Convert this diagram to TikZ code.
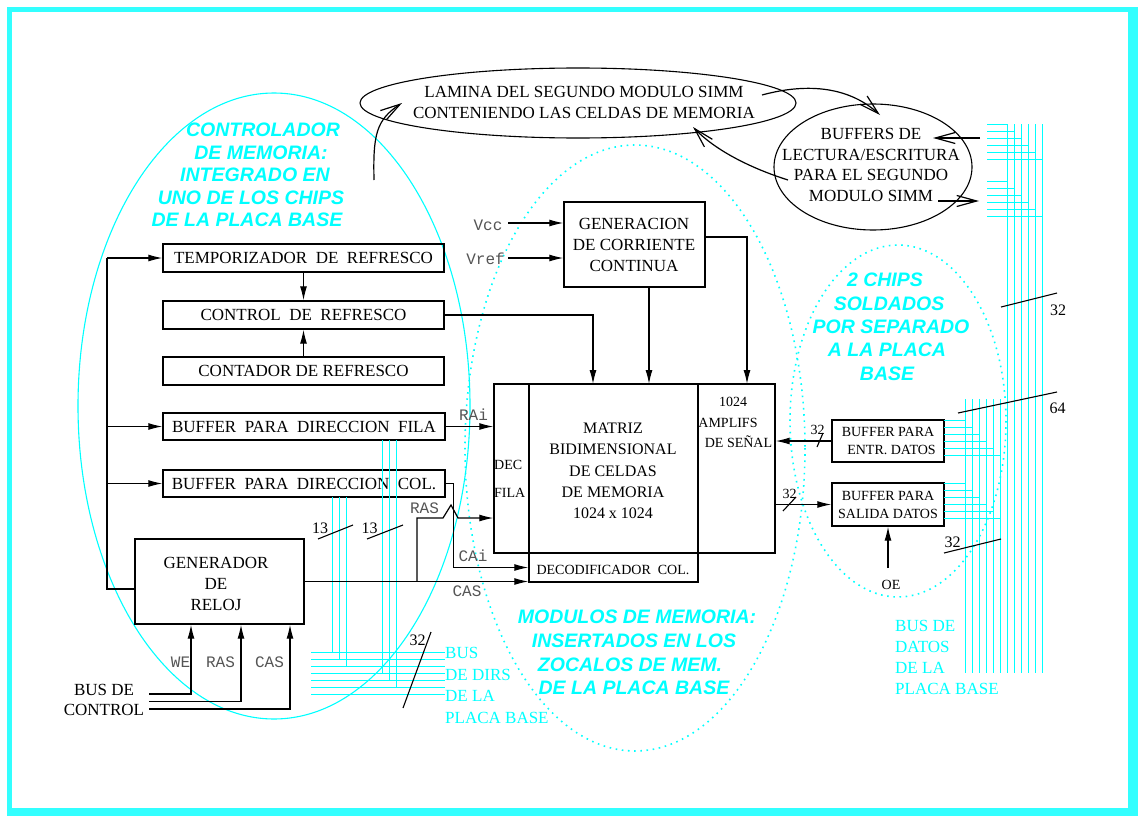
\documentclass[tikz,border=0pt]{standalone}
\usepackage{fontspec}
\setmainfont{Liberation Serif}
\setsansfont{Liberation Sans}
\setmonofont{Liberation Mono}
\usetikzlibrary{arrows.meta,shapes.geometric}
\definecolor{framecyan}{RGB}{51,255,255}
\definecolor{buscyan}{RGB}{0,255,255}
\definecolor{labelgray}{RGB}{85,85,85}
\newcommand{\fsz}[2]{\fontsize{#1}{#2}\selectfont}
\begin{document}
\begin{tikzpicture}[x=1pt,y=-1pt,
  box/.style={draw, line width=1.3pt, inner sep=0pt, align=center, font=\fsz{17}{21}},
  txt/.style={inner sep=0pt, align=center, font=\fsz{17}{21}},
  small/.style={inner sep=0pt, align=center, font=\fsz{14}{17.5}},
  mono/.style={inner sep=0pt, anchor=base, text=labelgray, font=\ttfamily\fsz{16}{18}},
  num/.style={inner sep=0pt, anchor=base, font=\fsz{16}{18}},
  head/.style={inner sep=0pt, text=buscyan, font=\sffamily\bfseries\itshape\fsz{19.5}{23}},
  buslabel/.style={inner sep=0pt, anchor=west, align=left, text=buscyan, font=\fsz{17}{21.5}},
  wire/.style={line width=1.2pt},
  arr/.style={line width=1.2pt, -{Latex[length=14pt,width=7pt]}},
  barb/.style={line width=1.2pt, -{Straight Barb[length=20pt,width=11pt]}},
  bus/.style={buscyan, line width=1pt},
  tick/.style={line width=1.1pt},
  dots/.style={buscyan, line width=1.6pt, dash pattern=on 1.6pt off 4.6pt},
]
% page and frame
\fill[white] (0,0) rectangle (1138,816);
\useasboundingbox (0,0) rectangle (1138,816);
\fill[framecyan] (7,7) rectangle (1138,816);
\fill[white] (12,12) rectangle (1128,808);

% grouping outlines
\draw[buscyan, line width=1.1pt] (274,406) ellipse [x radius=196, y radius=313];
\draw[dots] (635,448) ellipse [x radius=170, y radius=303];
\draw[dots] (898,421) ellipse [x radius=108, y radius=176];

% blocks of the memory controller
\node[box, minimum width=281, minimum height=28] (temp) at (303.5,258) {TEMPORIZADOR\ \ DE\ \ REFRESCO};
\node[box, minimum width=281, minimum height=28] (ctrl) at (303.5,315) {CONTROL\ \ DE\ \ REFRESCO};
\node[box, minimum width=281, minimum height=28] (cont) at (303.5,371) {CONTADOR DE REFRESCO};
\node[box, minimum width=282, minimum height=27] (fila) at (304,426.5) {BUFFER\ \ PARA\ \ DIRECCION\ \ FILA};
\node[box, minimum width=282, minimum height=27] (col) at (304,483.5) {BUFFER\ \ PARA\ \ DIRECCION\ \ COL.};
\node[box, minimum width=169, minimum height=85] (gen) at (219.5,581.5) {};
\node[txt] (gent) at (216,584) {GENERADOR\\DE\\RELOJ};

% DC generation
\node[box, minimum width=141, minimum height=85] (gcc) at (634.5,244.5) {};
\node[txt] (gcct) at (634,245) {GENERACION\\DE CORRIENTE\\CONTINUA};

% memory array
\node[box, minimum width=35, minimum height=169] (dec) at (511.5,468.5) {};
\node[box, minimum width=169, minimum height=169] (mtz) at (613.5,468.5) {};
\node[box, minimum width=77, minimum height=169] (amp) at (736.5,468.5) {};
\node[box, minimum width=169, minimum height=29] (decc) at (613.5,567.5) {};
\node[inner sep=0pt, align=center, font=\fsz{16}{21.25}] (mtzt) at (613,471) {MATRIZ\\BIDIMENSIONAL\\DE CELDAS\\DE MEMORIA\\1024 x 1024};
\node[small, anchor=west] (dect1) at (494,464.5) {DEC};
\node[small, anchor=west] (dect2) at (494,493) {FILA};
\node[small] (ampt1) at (733,401.5) {1024};
\node[small] (ampt2) at (728,422.5) {AMPLIFS};
\node[small] (ampt3) at (738.5,442) {DE SEÑAL};
\node[small] (decct) at (613,570) {DECODIFICADOR\ \ COL.};

% data buffers
\node[box, minimum width=112, minimum height=42, font=\fsz{14}{17.5}] (entr) at (888,441) {BUFFER PARA\\\ \ ENTR. DATOS};
\node[box, minimum width=112, minimum height=43, font=\fsz{14}{18}] (sal) at (888,504.5) {BUFFER PARA\\SALIDA DATOS};

% SIMM module outlines
\node[draw, ellipse, line width=1.1pt, minimum width=436, minimum height=70, inner sep=0pt] (lam) at (578,103) {};
\node[txt] (lamt) at (584,102) {LAMINA DEL SEGUNDO MODULO SIMM\\CONTENIENDO LAS CELDAS DE MEMORIA};
\node[draw, ellipse, line width=1.1pt, minimum width=198, minimum height=126, inner sep=0pt] (bufe) at (873,167) {};
\node[inner sep=0pt, align=center, font=\fsz{17}{20.8}] (bufet) at (871,165) {BUFFERS DE\\LECTURA/ESCRITURA\\PARA EL SEGUNDO\\MODULO SIMM};

% data bus of the motherboard
\foreach \k in {0,...,5} {
  \draw[bus] (1007+7*\k,124) -- (1007+7*\k,673);
  \draw[bus] (987,124+7*\k) -- (1007+7*\k,124+7*\k);
  \draw[bus] (987,181+7*\k) -- (1007+7*\k,181+7*\k);
  \draw[bus] (965+7*\k,399) -- (965+7*\k,673);
  \draw[bus] (944,420+7*\k) -- (965+7*\k,420+7*\k);
  \draw[bus] (944,483+7*\k) -- (965+7*\k,483+7*\k);
}
% address bus of the motherboard
\foreach \k in {0,1,2} {
  \draw[bus] (332+7*\k,497) -- (332+7*\k,652+7*\k);
  \draw[bus] (382+7*\k,440) -- (382+7*\k,673+7*\k);
}
\foreach \k in {0,...,6} \draw[bus] (311,652+7*\k) -- (445,652+7*\k);

\node[buslabel] (abus) at (445,685.5) {BUS\\DE DIRS\\DE LA\\PLACA BASE};
\node[buslabel, font=\fsz{17}{21}] (dbus) at (895,657.5) {BUS DE\\DATOS\\DE LA\\PLACA BASE};

% bus width marks
\draw[tick] (1001,307) -- (1057,293);
\node[num] (n32a) at (1058,315) {32};
\draw[tick] (958,413) -- (1057,392);
\node[num] (n64) at (1057.5,413) {64};
\draw[tick] (944,553) -- (1001,539);
\node[num] (n32b) at (952.5,547) {32};
\draw[tick] (817,447) -- (823,433);
\node[num, font=\fsz{14}{16}] (n32c) at (817.5,434) {32};
\draw[tick] (783,511) -- (796,497);
\node[num, font=\fsz{14}{16}] (n32d) at (789.5,498) {32};
\draw[tick] (318,539) -- (353,525);
\node[num] (n13a) at (320,533) {13};
\draw[tick] (367,539) -- (403,525);
\node[num] (n13b) at (369.5,533) {13};
\draw[tick] (403,708) -- (431,632);
\node[num] (n32e) at (417.5,645) {32};

% control lines on the left
\coordinate (lbTop) at (107,258);
\coordinate (lbBot) at (107,589);
\draw[wire] (gen.west |- lbBot) -- (lbBot) -- (lbTop);
\draw[arr] (lbTop) -- (temp.west);
\draw[arr] (lbTop |- fila.west) -- (fila.west);
\draw[arr] (lbTop |- col.west) -- (col.west);
\draw[arr] (temp.south) -- (ctrl.north);
\draw[arr] (cont.north) -- (ctrl.south);

% inputs of the array
\coordinate (inA) at (593,384);
\coordinate (inB) at (649,384);
\coordinate (inC) at (747,384);
\draw[arr] (ctrl.east) -| (inA);
\draw[arr] (gcc.south -| inB) -- (inB);
\draw[arr] (gcc.east |- 0,237) -| (inC);

\node[mono] (vcc) at (488,230) {Vcc};
\node[mono] (vref) at (485.5,264) {Vref};
\draw[arr] (508,223) -- (gcc.west |- 0,223);
\draw[arr] (508,258) -- (gcc.west |- 0,258);

\draw[arr] (fila.east) -- (fila.east -| dec.west);
\node[mono] (rai) at (473.5,420) {RAi};
\draw[arr] (gen.east) -- (gen.east -| decc.west);
\node[mono] (cas1) at (467,596) {CAS};
\coordinate (rasJ) at (417,581.5);
\draw[arr] (rasJ) |- (443,518) -- (451,505) -- (458,518) -- (dec.west |- 0,518);
\node[mono] (ras1) at (424.5,513) {RAS};
\draw[arr] (col.east) -- ++(8,0) |- (decc.west);
\node[mono] (cai) at (473,561) {CAi};

% control bus into the clock generator
\draw[arr] (149,694) -| (gen.south -| 191,0);
\draw[arr] (149,701.5) -| (gen.south -| 241,0);
\draw[arr] (149,709) -| (gen.south -| 290,0);
\node[mono] (we) at (180.5,667) {WE};
\node[mono] (ras2) at (220.5,667) {RAS};
\node[mono] (cas2) at (269.5,667) {CAS};
\node[txt, font=\fsz{17}{20}] (cbus) at (104,700) {BUS DE\\CONTROL};

% data paths
\draw[arr] (entr.west) -- (entr.west -| amp.east);
\draw[arr] (sal.west -| amp.east) -- (sal.west);
\node[num, font=\fsz{14}{16}] (oe) at (891,589) {OE};
\coordinate (oeTop) at (888,568);
\draw[arr] (oeTop) -- (oeTop |- sal.south);

% links with the second SIMM module
\coordinate (ctlUp) at (374,180);
\coordinate (lamIn) at (402,103);
\draw[barb] (ctlUp) .. controls (373,135) and (376,120) .. (lamIn);
\coordinate (lamOut) at (762,95);
\coordinate (bufIn) at (880,115);
\draw[barb] (lamOut) .. controls (810,82) and (850,88) .. (bufIn);
\coordinate (bufOut) at (788,180);
\coordinate (lamIn2) at (693,127);
\draw[barb] (bufOut) .. controls (750,168) and (715,150) .. (lamIn2);
\draw[barb] (980,138) -- (933,138);
\draw[barb] (938,201) -- (979,201);

% area captions
\foreach \x/\y/\t [count=\i] in {263/130/{CONTROLADOR}, 261/152.5/{DE MEMORIA:}, 255/175/{INTEGRADO EN}, 251/198/{UNO DE LOS CHIPS}, 247/220/{DE LA PLACA BASE}}
  \node[head] (capA\i) at (\x,\y) {\t};
\foreach \x/\y/\t [count=\i] in {885/280/{2 CHIPS}, 889/303.5/{SOLDADOS}, 891/326.5/{POR SEPARADO}, 887/350/{A LA PLACA}, 887/373.5/{BASE}}
  \node[head] (capB\i) at (\x,\y) {\t};
\foreach \x/\y/\t [count=\i] in {637/617/{MODULOS DE MEMORIA:}, 634/641/{INSERTADOS EN LOS}, 630/665/{ZOCALOS DE MEM.}, 634/688/{DE LA PLACA BASE}}
  \node[head] (capC\i) at (\x,\y) {\t};
\end{tikzpicture}
\end{document}
